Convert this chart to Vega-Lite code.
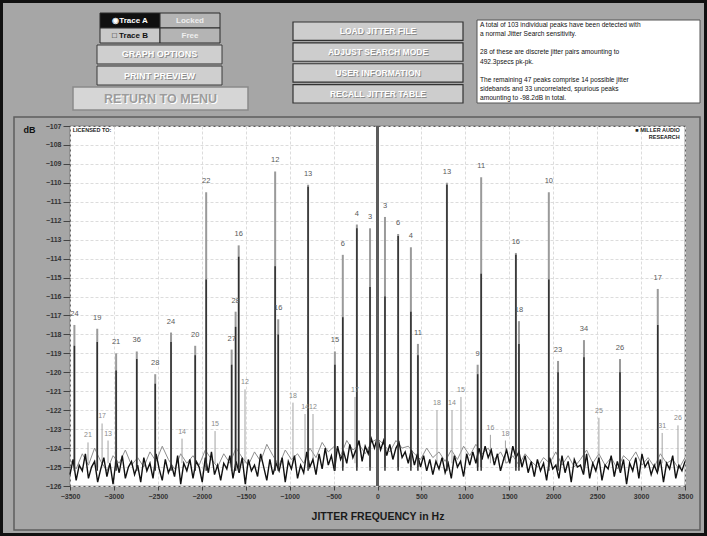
{
"$schema":"https://vega.github.io/schema/vega-lite/v6.json",
"width":615,"height":360,
"autosize":{"type":"none"},
"padding":{"left":70,"top":126,"right":22,"bottom":50},
"background":"#a6a6a6",
"config":{"font":"Liberation Sans","view":{"fill":"#ffffff","stroke":"#5a5a5a","strokeWidth":1.2}},
"datasets":{
"peaks":[
{"f":-3450,"g":-117.5,"b":-118.6,"label":"24"},
{"f":-3190,"g":-117.7,"b":-118.4,"label":"19"},
{"f":-2975,"g":-119.0,"b":-119.9,"label":"21"},
{"f":-2740,"g":-118.9,"b":-119.3,"label":"36"},
{"f":-2530,"g":-120.1,"b":-120.6,"label":"28"},
{"f":-2350,"g":-117.9,"b":-118.4,"label":"24"},
{"f":-2075,"g":-118.6,"b":-119.1,"label":"20"},
{"f":-1950,"g":-110.5,"b":-115.1,"label":"22"},
{"f":-1660,"g":-118.8,"b":-119.6,"label":"27"},
{"f":-1615,"g":-116.8,"b":-117.6,"label":"28"},
{"f":-1580,"g":-113.3,"b":-113.9,"label":"16"},
{"f":-1165,"g":-109.4,"b":-114.4,"label":"12"},
{"f":-1130,"g":-117.2,"b":-118.0,"label":"16"},
{"f":-790,"g":-110.1,"b":-110.2,"label":"13"},
{"f":-485,"g":-118.9,"b":-119.6,"label":"15"},
{"f":-395,"g":-113.8,"b":-117.1,"label":"6"},
{"f":-235,"g":-112.2,"b":-112.4,"label":"4"},
{"f":-85,"g":-112.4,"b":-115.5,"label":"3"},
{"f":85,"g":-111.8,"b":-116.0,"label":"3"},
{"f":235,"g":-112.7,"b":-112.8,"label":"6"},
{"f":380,"g":-113.4,"b":-116.8,"label":"4"},
{"f":460,"g":-118.5,"b":-119.1,"label":"11"},
{"f":790,"g":-110.0,"b":-110.1,"label":"13"},
{"f":1140,"g":-119.6,"b":-120.1,"label":"9"},
{"f":1180,"g":-109.7,"b":-114.8,"label":"11"},
{"f":1575,"g":-113.7,"b":-113.8,"label":"16"},
{"f":1610,"g":-117.3,"b":-118.5,"label":"18"},
{"f":1950,"g":-110.5,"b":-115.1,"label":"10"},
{"f":2055,"g":-119.4,"b":-120.0,"label":"23"},
{"f":2350,"g":-118.3,"b":-119.2,"label":"34"},
{"f":2760,"g":-119.3,"b":-120.0,"label":"26"},
{"f":3190,"g":-115.6,"b":-117.5,"label":"17"}
],
"small":[
{"f":-3295,"g":-123.7,"label":"21"},
{"f":-3135,"g":-122.7,"label":"17"},
{"f":-3067,"g":-123.6,"label":"13"},
{"f":-2225,"g":-123.5,"label":"14"},
{"f":-1849,"g":-123.1,"label":"15"},
{"f":-1508,"g":-120.9,"label":"12"},
{"f":-962,"g":-121.6,"label":"18"},
{"f":-825,"g":-122.2,"label":"14"},
{"f":-734,"g":-122.2,"label":"12"},
{"f":-256,"g":-121.3,"label":"17"},
{"f":677,"g":-122.0,"label":"18"},
{"f":848,"g":-122.0,"label":"14"},
{"f":950,"g":-121.3,"label":"15"},
{"f":1285,"g":-123.3,"label":"16"},
{"f":1456,"g":-123.6,"label":"18"},
{"f":2520,"g":-122.4,"label":"25"},
{"f":3240,"g":-123.2,"label":"31"},
{"f":3420,"g":-122.8,"label":"26"}
],
"grayNoise":[
{"f":-3500,"v":-124.6},{"f":-3430,"v":-125.1},{"f":-3360,"v":-124.3},{"f":-3290,"v":-124.9},{"f":-3220,"v":-124.0},{"f":-3150,"v":-124.7},{"f":-3080,"v":-125.2},{"f":-3010,"v":-124.4},{"f":-2940,"v":-124.8},{"f":-2870,"v":-124.1},
{"f":-2800,"v":-124.9},{"f":-2730,"v":-124.5},{"f":-2660,"v":-125.0},{"f":-2590,"v":-124.2},{"f":-2520,"v":-124.7},{"f":-2450,"v":-123.9},{"f":-2380,"v":-124.6},{"f":-2310,"v":-125.1},{"f":-2240,"v":-124.3},{"f":-2170,"v":-124.8},
{"f":-2100,"v":-124.4},{"f":-2030,"v":-124.9},{"f":-1960,"v":-124.1},{"f":-1890,"v":-124.6},{"f":-1820,"v":-125.0},{"f":-1750,"v":-124.3},{"f":-1680,"v":-124.8},{"f":-1610,"v":-124.0},{"f":-1540,"v":-124.5},{"f":-1470,"v":-124.9},
{"f":-1400,"v":-124.2},{"f":-1330,"v":-124.7},{"f":-1260,"v":-123.8},{"f":-1190,"v":-124.4},{"f":-1120,"v":-124.9},{"f":-1050,"v":-124.1},{"f":-980,"v":-124.6},{"f":-910,"v":-124.3},{"f":-840,"v":-124.8},{"f":-770,"v":-124.0},
{"f":-700,"v":-124.5},{"f":-630,"v":-123.7},{"f":-560,"v":-124.2},{"f":-490,"v":-123.9},{"f":-420,"v":-124.4},{"f":-350,"v":-123.6},{"f":-280,"v":-124.1},{"f":-210,"v":-123.8},{"f":-140,"v":-124.3},{"f":-70,"v":-123.7},
{"f":0,"v":-123.5},
{"f":70,"v":-123.8},{"f":140,"v":-124.2},{"f":210,"v":-123.6},{"f":280,"v":-124.0},{"f":350,"v":-123.9},{"f":420,"v":-124.3},{"f":490,"v":-124.6},{"f":560,"v":-124.0},{"f":630,"v":-124.5},{"f":700,"v":-124.2},
{"f":770,"v":-124.7},{"f":840,"v":-124.1},{"f":910,"v":-124.6},{"f":980,"v":-123.9},{"f":1050,"v":-124.4},{"f":1120,"v":-123.8},{"f":1190,"v":-124.3},{"f":1260,"v":-124.0},{"f":1330,"v":-124.6},{"f":1400,"v":-124.2},
{"f":1470,"v":-124.8},{"f":1540,"v":-124.4},{"f":1610,"v":-124.9},{"f":1680,"v":-124.3},{"f":1750,"v":-124.7},{"f":1820,"v":-125.0},{"f":1890,"v":-124.5},{"f":1960,"v":-124.8},{"f":2030,"v":-124.2},{"f":2100,"v":-124.9},
{"f":2170,"v":-124.4},{"f":2240,"v":-125.0},{"f":2310,"v":-124.6},{"f":2380,"v":-124.1},{"f":2450,"v":-124.8},{"f":2520,"v":-124.3},{"f":2590,"v":-124.9},{"f":2660,"v":-124.5},{"f":2730,"v":-125.1},{"f":2800,"v":-124.4},
{"f":2870,"v":-124.7},{"f":2940,"v":-124.2},{"f":3010,"v":-124.9},{"f":3080,"v":-124.5},{"f":3150,"v":-125.0},{"f":3220,"v":-124.3},{"f":3290,"v":-124.8},{"f":3360,"v":-124.6},{"f":3430,"v":-125.1},{"f":3500,"v":-124.5}
],
"blackNoise":[
{"f":-3500,"v":-125.4},{"f":-3465,"v":-124.6},{"f":-3430,"v":-125.7},{"f":-3395,"v":-124.9},{"f":-3360,"v":-125.2},{"f":-3325,"v":-124.3},{"f":-3290,"v":-125.6},{"f":-3255,"v":-125.0},{"f":-3220,"v":-124.7},{"f":-3185,"v":-125.8},
{"f":-3150,"v":-125.1},{"f":-3115,"v":-124.5},{"f":-3080,"v":-125.5},{"f":-3045,"v":-124.8},{"f":-3010,"v":-125.9},{"f":-2975,"v":-124.6},{"f":-2940,"v":-125.3},{"f":-2905,"v":-124.4},{"f":-2870,"v":-125.6},{"f":-2835,"v":-125.0},
{"f":-2800,"v":-124.7},{"f":-2765,"v":-125.4},{"f":-2730,"v":-124.9},{"f":-2695,"v":-125.8},{"f":-2660,"v":-124.5},{"f":-2625,"v":-125.2},{"f":-2590,"v":-124.8},{"f":-2555,"v":-125.6},{"f":-2520,"v":-124.3},{"f":-2485,"v":-125.1},
{"f":-2450,"v":-125.7},{"f":-2415,"v":-124.6},{"f":-2380,"v":-125.3},{"f":-2345,"v":-124.9},{"f":-2310,"v":-125.5},{"f":-2275,"v":-124.4},{"f":-2240,"v":-125.9},{"f":-2205,"v":-124.8},{"f":-2170,"v":-125.2},{"f":-2135,"v":-124.6},
{"f":-2100,"v":-125.6},{"f":-2065,"v":-124.7},{"f":-2030,"v":-125.0},{"f":-1995,"v":-125.8},{"f":-1960,"v":-124.5},{"f":-1925,"v":-125.3},{"f":-1890,"v":-124.2},{"f":-1855,"v":-125.4},{"f":-1820,"v":-124.9},{"f":-1785,"v":-125.7},
{"f":-1750,"v":-124.8},{"f":-1715,"v":-125.1},{"f":-1680,"v":-124.4},{"f":-1645,"v":-125.6},{"f":-1610,"v":-124.7},{"f":-1575,"v":-125.3},{"f":-1540,"v":-124.5},{"f":-1505,"v":-125.9},{"f":-1470,"v":-124.6},{"f":-1435,"v":-125.2},
{"f":-1400,"v":-124.9},{"f":-1365,"v":-125.5},{"f":-1330,"v":-124.3},{"f":-1295,"v":-125.0},{"f":-1260,"v":-125.7},{"f":-1225,"v":-124.6},{"f":-1190,"v":-125.4},{"f":-1155,"v":-124.8},{"f":-1120,"v":-125.2},{"f":-1085,"v":-124.5},
{"f":-1050,"v":-125.8},{"f":-1015,"v":-124.7},{"f":-980,"v":-125.1},{"f":-945,"v":-124.4},{"f":-910,"v":-125.6},{"f":-875,"v":-124.9},{"f":-840,"v":-125.3},{"f":-805,"v":-124.2},{"f":-770,"v":-125.0},{"f":-735,"v":-124.6},
{"f":-700,"v":-125.4},{"f":-665,"v":-124.3},{"f":-630,"v":-125.1},{"f":-595,"v":-124.0},{"f":-560,"v":-124.9},{"f":-525,"v":-124.4},{"f":-490,"v":-125.2},{"f":-455,"v":-123.9},{"f":-420,"v":-124.6},{"f":-385,"v":-124.2},
{"f":-350,"v":-124.8},{"f":-315,"v":-123.8},{"f":-280,"v":-124.5},{"f":-245,"v":-124.1},{"f":-210,"v":-123.6},{"f":-175,"v":-124.7},{"f":-140,"v":-123.9},{"f":-105,"v":-124.3},{"f":-70,"v":-123.5},{"f":-35,"v":-124.0},
{"f":0,"v":-123.4},
{"f":35,"v":-124.1},{"f":70,"v":-123.6},{"f":105,"v":-124.4},{"f":140,"v":-123.8},{"f":175,"v":-124.6},{"f":210,"v":-124.0},{"f":245,"v":-123.7},{"f":280,"v":-124.5},{"f":315,"v":-124.2},{"f":350,"v":-124.8},
{"f":385,"v":-124.1},{"f":420,"v":-124.9},{"f":455,"v":-124.3},{"f":490,"v":-125.0},{"f":525,"v":-124.4},{"f":560,"v":-125.2},{"f":595,"v":-124.6},{"f":630,"v":-125.4},{"f":665,"v":-124.7},{"f":700,"v":-125.1},
{"f":735,"v":-124.5},{"f":770,"v":-125.3},{"f":805,"v":-124.8},{"f":840,"v":-125.6},{"f":875,"v":-124.4},{"f":910,"v":-125.0},{"f":945,"v":-124.7},{"f":980,"v":-125.5},{"f":1015,"v":-124.3},{"f":1050,"v":-124.9},
{"f":1085,"v":-124.2},{"f":1120,"v":-124.8},{"f":1155,"v":-124.0},{"f":1190,"v":-124.6},{"f":1225,"v":-123.9},{"f":1260,"v":-124.5},{"f":1295,"v":-124.1},{"f":1330,"v":-124.9},{"f":1365,"v":-124.3},{"f":1400,"v":-125.2},
{"f":1435,"v":-124.6},{"f":1470,"v":-124.1},{"f":1505,"v":-124.8},{"f":1540,"v":-123.9},{"f":1575,"v":-124.5},{"f":1610,"v":-124.2},{"f":1645,"v":-125.0},{"f":1680,"v":-124.4},{"f":1715,"v":-125.3},{"f":1750,"v":-124.7},
{"f":1785,"v":-125.5},{"f":1820,"v":-124.6},{"f":1855,"v":-125.2},{"f":1890,"v":-124.8},{"f":1925,"v":-125.7},{"f":1960,"v":-124.5},{"f":1995,"v":-125.1},{"f":2030,"v":-124.9},{"f":2065,"v":-125.6},{"f":2100,"v":-124.4},
{"f":2135,"v":-125.3},{"f":2170,"v":-124.7},{"f":2205,"v":-125.8},{"f":2240,"v":-124.6},{"f":2275,"v":-125.0},{"f":2310,"v":-124.9},{"f":2345,"v":-125.4},{"f":2380,"v":-124.3},{"f":2415,"v":-125.6},{"f":2450,"v":-124.8},
{"f":2485,"v":-125.2},{"f":2520,"v":-124.5},{"f":2555,"v":-125.7},{"f":2590,"v":-124.9},{"f":2625,"v":-125.1},{"f":2660,"v":-124.4},{"f":2695,"v":-125.5},{"f":2730,"v":-124.7},{"f":2765,"v":-125.3},{"f":2800,"v":-124.6},
{"f":2835,"v":-125.9},{"f":2870,"v":-124.8},{"f":2905,"v":-125.2},{"f":2940,"v":-124.5},{"f":2975,"v":-125.6},{"f":3010,"v":-124.3},{"f":3045,"v":-125.0},{"f":3080,"v":-124.7},{"f":3115,"v":-125.4},{"f":3150,"v":-124.9},
{"f":3185,"v":-125.3},{"f":3220,"v":-124.6},{"f":3255,"v":-125.8},{"f":3290,"v":-124.8},{"f":3325,"v":-125.1},{"f":3360,"v":-124.4},{"f":3395,"v":-125.6},{"f":3430,"v":-124.9},{"f":3465,"v":-125.2},{"f":3500,"v":-124.7}
],
"frame":[{"k":"w"}],
"panel":[{"k":"p"}],
"trace":[{"r":1,"c":"a","t":"◉Trace A","s":"sel"},{"r":1,"c":"b","t":"Locked","s":"val"},{"r":2,"c":"a","t":"□ Trace B","s":"off"},{"r":2,"c":"b","t":"Free","s":"val"}],
"leftBtns":[{"col":"L","r":1,"t":"GRAPH OPTIONS"},{"col":"L","r":2,"t":"PRINT PREVIEW"}],
"ret":[{"col":"R","t":"RETURN TO MENU"}],
"midBtns":[{"col":"M","r":1,"t":"LOAD JITTER FILE"},{"col":"M","r":2,"t":"ADJUST SEARCH MODE"},{"col":"M","r":3,"t":"USER INFORMATION"},{"col":"M","r":4,"t":"RECALL JITTER TABLE"}],
"infoBox":[{"col":"I"}],
"infoLines":[
{"col":"I","n":1,"t":"A total of 103 individual peaks have been detected with"},
{"col":"I","n":2,"t":"a normal Jitter Search sensitivity."},
{"col":"I","n":4,"t":"28 of these are discrete jitter pairs amounting to"},
{"col":"I","n":5,"t":"492.3psecs pk-pk."},
{"col":"I","n":7,"t":"The remaining 47 peaks comprise 14 possible jitter"},
{"col":"I","n":8,"t":"sidebands and 33 uncorrelated, spurious peaks"},
{"col":"I","n":9,"t":"amounting to -98.2dB in total."}
]
},
"layer":[
{
"layer":[
{"data":{"name":"grayNoise"},"mark":{"type":"line","color":"#8e8e8e","strokeWidth":1},
 "encoding":{"x":{"field":"f","type":"quantitative"},"y":{"field":"v","type":"quantitative"}}},
{"data":{"name":"small"},"mark":{"type":"rule","color":"#a3a3a3","strokeWidth":1},
 "encoding":{"x":{"field":"f","type":"quantitative"},"y":{"field":"g","type":"quantitative"},"y2":{"datum":-124.8}}},
{"data":{"name":"peaks"},"mark":{"type":"rule","color":"#9a9a9a","strokeWidth":2},
 "encoding":{"x":{"field":"f","type":"quantitative"},"y":{"field":"g","type":"quantitative"},"y2":{"datum":-125}}},
{"data":{"name":"blackNoise"},"mark":{"type":"line","color":"#111111","strokeWidth":1.4},
 "encoding":{"x":{"field":"f","type":"quantitative"},"y":{"field":"v","type":"quantitative"}}},
{"data":{"name":"peaks"},"mark":{"type":"rule","color":"#2e2e2e","strokeWidth":1.5},
 "encoding":{"x":{"field":"f","type":"quantitative"},"y":{"field":"b","type":"quantitative"},"y2":{"datum":-125.2}}},
{"data":{"values":[{}]},"mark":{"type":"rule","color":"#5c5c5c","strokeWidth":3},
 "encoding":{"x":{"datum":0,"type":"quantitative"},"y":{"datum":-126,"type":"quantitative"},"y2":{"datum":-107}}},
{"data":{"name":"peaks"},"mark":{"type":"text","fontSize":7.5,"fill":"#5a5a5a","baseline":"bottom","dy":-7},
 "encoding":{"x":{"field":"f","type":"quantitative"},"y":{"field":"g","type":"quantitative"},"text":{"field":"label"}}},
{"data":{"name":"small"},"mark":{"type":"text","fontSize":7,"fill":"#8a8a8a","baseline":"bottom","dy":-4},
 "encoding":{"x":{"field":"f","type":"quantitative"},"y":{"field":"g","type":"quantitative"},"text":{"field":"label"}}},
{"data":{"values":[{}]},"mark":{"type":"text","fontSize":5.5,"fontWeight":"bold","color":"#222222","align":"left","baseline":"top","dy":2},
 "encoding":{"x":{"datum":-3470,"type":"quantitative"},"y":{"datum":-107,"type":"quantitative"},"text":{"value":"LICENSED TO:"}}},
{"data":{"values":[{}]},"mark":{"type":"text","fontSize":5.5,"fontWeight":"bold","color":"#222222","align":"right","baseline":"top","dy":2,"lineBreak":"\n","lineHeight":7},
 "encoding":{"x":{"datum":3440,"type":"quantitative"},"y":{"datum":-107,"type":"quantitative"},"text":{"value":"■ MILLER AUDIO\nRESEARCH"}}}
],
"encoding":{
"x":{"type":"quantitative","scale":{"domain":[-3500,3500],"nice":false,"zero":false},
 "axis":{"orient":"bottom","values":[-3500,-3000,-2500,-2000,-1500,-1000,-500,0,500,1000,1500,2000,2500,3000,3500],"format":"d","labelFlush":false,"title":"JITTER FREQUENCY in Hz","titleFontSize":10.5,"titleFontWeight":"bold","titleColor":"#1a1a1a","titlePadding":12,"labelFontSize":7,"labelFontWeight":"bold","labelColor":"#333333","tickSize":4,"tickColor":"#444444","domain":false,"grid":true,"gridColor":"#dcdcdc","gridDash":[3,2],"labelPadding":2}},
"y":{"type":"quantitative","scale":{"domain":[-126,-107],"nice":false,"zero":false},
 "axis":{"orient":"left","values":[-126,-125,-124,-123,-122,-121,-120,-119,-118,-117,-116,-115,-114,-113,-112,-111,-110,-109,-108,-107],"format":"d","labelFlush":false,"title":"dB","titleAngle":0,"titleX":-47,"titleY":3,"titleAlign":"left","titleBaseline":"middle","titleFontSize":9,"titleFontWeight":"bold","titleColor":"#111111","labelFontSize":7,"labelFontWeight":"bold","labelColor":"#333333","tickSize":7,"tickColor":"#444444","domain":false,"grid":true,"gridColor":"#dcdcdc","gridDash":[3,2],"labelPadding":2}}
}
},
{"data":{"name":"frame"},"mark":{"type":"rect","fill":null,"stroke":"#111111","strokeWidth":3},
 "encoding":{"x":{"field":"k","type":"nominal","axis":null,"scale":{"range":[-68.5,635.5],"padding":0}},
  "y":{"field":"k","type":"nominal","axis":null,"scale":{"range":[-124.5,408.5],"padding":0}}}},
{"data":{"name":"panel"},"mark":{"type":"rect","fill":null,"stroke":"#5e5e5e","strokeWidth":1.5},
 "encoding":{"x":{"field":"k","type":"nominal","axis":null,"scale":{"range":[-56,630],"padding":0}},
  "y":{"field":"k","type":"nominal","axis":null,"scale":{"range":[-9,404],"padding":0}}}},
{"data":{"name":"trace"},
 "encoding":{"x":{"field":"c","type":"nominal","axis":null,"scale":{"domain":["a","b"],"range":[30,150],"padding":0}},
  "y":{"field":"r","type":"ordinal","axis":null,"scale":{"domain":[1,2],"range":[-113,-83],"padding":0}}},
 "layer":[
  {"mark":{"type":"rect","stroke":"#2a2a2a","strokeWidth":1},"encoding":{"fill":{"field":"s","type":"nominal","legend":null,"scale":{"domain":["sel","off","val"],"range":["#101010","#c9c9c9","#b4b4b4"]}}}},
  {"mark":{"type":"text","fontSize":8,"fontWeight":"bold"},"encoding":{"text":{"field":"t"},"color":{"field":"s","type":"nominal","legend":null,"scale":{"domain":["sel","off","val"],"range":["#ffffff","#111111","#eeeeee"]}}}}
 ]},
{"data":{"name":"leftBtns"},
 "encoding":{"x":{"field":"col","type":"nominal","axis":null,"scale":{"range":[27,152],"padding":0}},
  "y":{"field":"r","type":"ordinal","axis":null,"scale":{"domain":[1,2],"range":[-81,-41],"paddingInner":0.1,"paddingOuter":0}}},
 "layer":[
  {"mark":{"type":"rect","fill":"#cfcfcf","stroke":"#3a3a3a","strokeWidth":1}},
  {"mark":{"type":"text","fontSize":9,"fontWeight":"bold","color":"#8c8c8c","dx":1,"dy":1},"encoding":{"text":{"field":"t"}}},
  {"mark":{"type":"text","fontSize":9,"fontWeight":"bold","color":"#ffffff"},"encoding":{"text":{"field":"t"}}}
 ]},
{"data":{"name":"ret"},
 "encoding":{"x":{"field":"col","type":"nominal","axis":null,"scale":{"range":[3,178],"padding":0}},
  "y":{"field":"col","type":"nominal","axis":null,"scale":{"range":[-39,-16],"padding":0}}},
 "layer":[
  {"mark":{"type":"rect","fill":"#d6d6d6","stroke":"#8a8a8a","strokeWidth":1.5}},
  {"mark":{"type":"text","fontSize":12.5,"fontWeight":"bold","color":"#ffffff","dx":1,"dy":1},"encoding":{"text":{"field":"t"}}},
  {"mark":{"type":"text","fontSize":12.5,"fontWeight":"bold","color":"#9c9c9c"},"encoding":{"text":{"field":"t"}}}
 ]},
{"data":{"name":"midBtns"},
 "encoding":{"x":{"field":"col","type":"nominal","axis":null,"scale":{"range":[223,393],"padding":0}},
  "y":{"field":"r","type":"ordinal","axis":null,"scale":{"domain":[1,2,3,4],"range":[-104,-23],"paddingInner":0.12,"paddingOuter":0}}},
 "layer":[
  {"mark":{"type":"rect","fill":"#cdcdcd","stroke":"#333333","strokeWidth":1.2}},
  {"mark":{"type":"text","fontSize":8.5,"fontWeight":"bold","color":"#8c8c8c","dx":1,"dy":1},"encoding":{"text":{"field":"t"}}},
  {"mark":{"type":"text","fontSize":8.5,"fontWeight":"bold","color":"#ffffff"},"encoding":{"text":{"field":"t"}}}
 ]},
{"data":{"name":"infoBox"},"mark":{"type":"rect","fill":"#ffffff","stroke":"#555555","strokeWidth":1},
 "encoding":{"x":{"field":"col","type":"nominal","axis":null,"scale":{"range":[407,630],"padding":0}},
  "y":{"field":"col","type":"nominal","axis":null,"scale":{"range":[-106,-23],"padding":0}}}},
{"data":{"name":"infoLines"},"mark":{"type":"text","fontSize":6.6,"color":"#111111","align":"left","baseline":"middle"},
 "encoding":{"text":{"field":"t"},
  "x":{"field":"col","type":"nominal","axis":null,"scale":{"range":[404,416],"padding":0}},
  "y":{"field":"n","type":"ordinal","axis":null,"scale":{"domain":[1,2,3,4,5,6,7,8,9],"range":[-101,-28],"padding":0}}}}
],
"resolve":{"scale":{"x":"independent","y":"independent"},"axis":{"x":"independent","y":"independent"}}
}
